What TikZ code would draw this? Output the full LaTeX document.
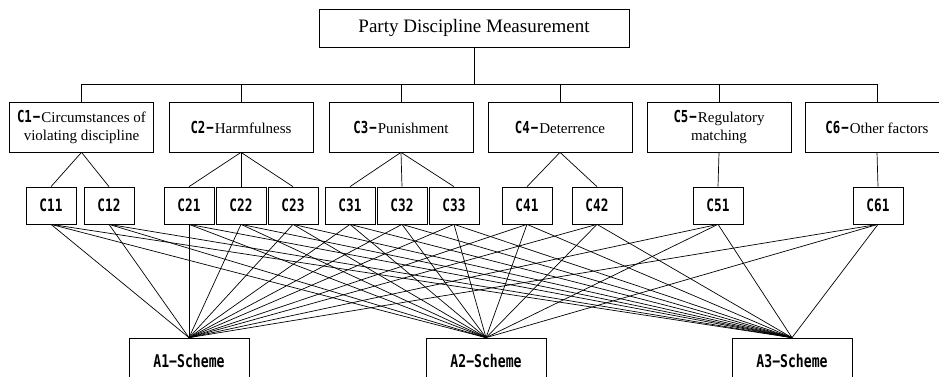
\documentclass[tikz,border=0pt]{standalone}
\usepackage{fontspec}
\setmainfont{Liberation Serif}
\newfontfamily\heifont[FakeStretch=0.75]{DejaVu Sans Mono}

\newcommand{\clab}[1]{{\heifont\bfseries\fontsize{16.5}{18}\selectfont #1\kern1pt−\kern1pt}}

\tikzset{
  box/.style={draw,line width=0.7pt,inner sep=0pt,align=center},
  topbox/.style={box,minimum width=310pt,minimum height=38pt,font=\fontsize{19}{22}\selectfont},
  critbox/.style={box,minimum width=144pt,minimum height=50pt,font=\fontsize{15}{18}\selectfont},
  subbox/.style={box,minimum width=50pt,minimum height=37pt,font=\heifont\bfseries\fontsize{17}{19}\selectfont},
  schemebox/.style={box,minimum width=120pt,minimum height=46pt,font=\heifont\bfseries\fontsize{17.5}{19}\selectfont},
  link/.style={line width=0.7pt}
}

\begin{document}
\begin{tikzpicture}[x=1pt,y=-1pt]
  \useasboundingbox (0,0) rectangle (939,376);

  \node[topbox] (top) at (474,28) {Party Discipline Measurement};
  \coordinate (bar) at (0,84);

  % criteria
  \foreach \i/\x/\txt in {1/81.5/{Circumstances of\\violating discipline},
                          2/241/{Harmfulness},
                          3/401/{Punishment},
                          4/560/{Deterrence},
                          5/719/{Regulatory\\matching},
                          6/877/{Other factors}}{
    \node[critbox] (c\i) at (\x,127) {\clab{C\i}\txt};
    \draw[link] (c\i.north) -- (c\i.north |- bar);
  }
  \draw[link] (top.south) -- (top.south |- bar);
  \draw[link] (c1.north |- bar) -- (c6.north |- bar);

  % sub-criteria
  \foreach \n/\x in {11/51,12/109,21/189,22/241,23/293,31/350,32/402,33/454,
                     41/527,42/597,51/718,61/878}{
    \node[subbox] (c\n) at (\x,205.5) {C\n};
  }
  \foreach \p/\n in {1/11,1/12,2/21,2/22,2/23,3/31,3/32,3/33,4/41,4/42,5/51,6/61}{
    \draw[link] (c\p.south) -- (c\n.north);
  }

  % schemes
  \foreach \a/\x in {1/189,2/486,3/792}{
    \node[schemebox] (a\a) at (\x,361) {A\a−Scheme};
  }
  \foreach \n in {11,12,21,22,23,31,32,33,41,42,51,61}{
    \foreach \a in {1,2,3}{
      \draw[link] (c\n.south) -- (a\a.north);
    }
  }
\end{tikzpicture}
\end{document}
